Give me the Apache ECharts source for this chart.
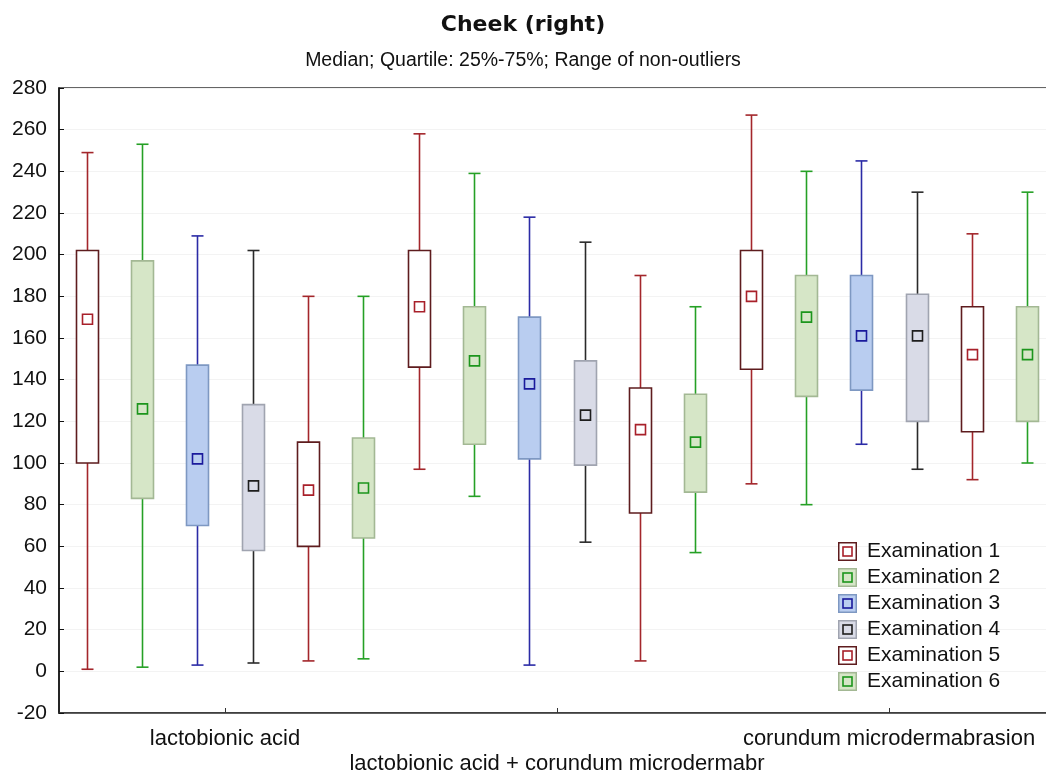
<!DOCTYPE html>
<html>
<head>
<meta charset="utf-8">
<script src="https://cdn.jsdelivr.net/npm/echarts@6/dist/echarts.min.js"></script>
<style>html,body{margin:0;padding:0;background:#fff}#c{width:1046px;height:772px}</style>
</head>
<body>
<div id="c"></div>
<script>
// ---- data ----
const categories = ['lactobionic acid', 'lactobionic acid + corundum microdermabr', 'corundum microdermabrasion'];
const seriesNames = ['Examination 1', 'Examination 2', 'Examination 3', 'Examination 4', 'Examination 5', 'Examination 6'];
const yTicks = [-20, 0, 20, 40, 60, 80, 100, 120, 140, 160, 180, 200, 220, 240, 260, 280];
// each entry: [min, Q1, median, Q3, max] per category
const exam1 = [[1, 100, 169, 202, 249], [97, 146, 175, 202, 258], [90, 145, 180, 202, 267]];
const exam2 = [[2, 83, 126, 197, 253], [84, 109, 149, 175, 239], [80, 132, 170, 190, 240]];
const exam3 = [[3, 70, 102, 147, 209], [3, 102, 138, 170, 218], [109, 135, 161, 190, 245]];
const exam4 = [[4, 58, 89, 128, 202], [62, 99, 123, 149, 206], [97, 120, 161, 181, 230]];
const exam5 = [[5, 60, 87, 110, 180], [5, 76, 116, 136, 190], [92, 115, 152, 175, 210]];
const exam6 = [[6, 64, 88, 112, 180], [57, 86, 110, 133, 175], [100, 120, 152, 175, 230]];
const examData = [exam1, exam2, exam3, exam4, exam5, exam6];

// ---- styles ----
const styles = [
  {whisker: '#a3262b', border: '#5e1c1e', fill: '#ffffff', marker: '#a8202a'},
  {whisker: '#25a025', border: '#a3b894', fill: '#d6e6c7', marker: '#1c951c'},
  {whisker: '#2b2ba6', border: '#7e98c2', fill: '#b9cdf0', marker: '#1a1a9c'},
  {whisker: '#2a2a2a', border: '#a0a4b0', fill: '#d9dbe7', marker: '#1e1e1e'},
  {whisker: '#a3262b', border: '#5e1c1e', fill: '#ffffff', marker: '#a8202a'},
  {whisker: '#25a025', border: '#a3b894', fill: '#d6e6c7', marker: '#1c951c'}
];

function legendIcon(s) {
  const svg = "<svg xmlns='http://www.w3.org/2000/svg' width='19' height='19'>" +
    "<rect x='0.75' y='0.75' width='17.5' height='17.5' fill='" + s.fill + "' stroke='" + s.border + "' stroke-width='1.5'/>" +
    "<rect x='5' y='5' width='9' height='9' fill='" + s.fill + "' stroke='" + s.marker + "' stroke-width='1.6'/></svg>";
  return 'image://data:image/svg+xml;charset=utf-8,' + encodeURIComponent(svg);
}

const nS = seriesNames.length;
const slots = [];
categories.forEach(function (c, ci) { seriesNames.forEach(function (n, si) { slots.push(c + '|' + n); }); });

const series = seriesNames.map(function (name, si) {
  const st = styles[si];
  const data = examData[si].map(function (v, ci) { return [ci * nS + si].concat(v); });
  return {
    name: name,
    type: 'custom',
    xAxisIndex: 0,
    yAxisIndex: 0,
    encode: {x: 0, y: [1, 2, 3, 4, 5]},
    data: data,
    renderItem: function (params, api) {
      const x = api.value(0);
      const pMin = api.coord([x, api.value(1)]);
      const yQ1 = api.coord([x, api.value(2)])[1];
      const yMed = api.coord([x, api.value(3)])[1];
      const yQ3 = api.coord([x, api.value(4)])[1];
      const yMax = api.coord([x, api.value(5)])[1];
      const cx = Math.round(pMin[0]) + 0.5;
      const yMin = pMin[1];
      const bw = 22, cw = 12, ms = 10;
      const ls = {stroke: st.whisker, lineWidth: 1.6};
      return {
        type: 'group',
        children: [
          {type: 'line', shape: {x1: cx, y1: yQ3, x2: cx, y2: yMax}, style: ls},
          {type: 'line', shape: {x1: cx, y1: yMin, x2: cx, y2: yQ1}, style: ls},
          {type: 'line', shape: {x1: cx - cw / 2, y1: yMax, x2: cx + cw / 2, y2: yMax}, style: ls},
          {type: 'line', shape: {x1: cx - cw / 2, y1: yMin, x2: cx + cw / 2, y2: yMin}, style: ls},
          {type: 'rect', shape: {x: cx - bw / 2, y: yQ3, width: bw, height: yQ1 - yQ3},
            style: {fill: st.fill, stroke: st.border, lineWidth: 1.6}},
          {type: 'rect', shape: {x: cx - ms / 2, y: yMed - ms / 2, width: ms, height: ms},
            style: {fill: st.fill, stroke: st.marker, lineWidth: 1.6}}
        ]
      };
    }
  };
});

const chart = echarts.init(document.getElementById('c'), null, {renderer: 'canvas'});
chart.setOption({
  backgroundColor: '#ffffff',
  animation: false,
  title: {
    text: 'Cheek (right)',
    subtext: 'Median; Quartile: 25%-75%; Range of non-outliers',
    left: 'center',
    top: 9,
    itemGap: 15,
    textStyle: {fontFamily: 'DejaVu Sans', fontWeight: 'bold', fontSize: 22, color: '#111'},
    subtextStyle: {fontFamily: 'Liberation Sans', fontSize: 19.5, color: '#111'}
  },
  legend: {
    orient: 'vertical',
    left: 833,
    top: 536,
    itemWidth: 19,
    itemHeight: 19,
    itemGap: 5,
    textStyle: {fontFamily: 'Liberation Sans', fontSize: 21, lineHeight: 21, color: '#111', padding: [0, 0, 0, 5]},
    data: seriesNames.map(function (n, i) { return {name: n, icon: legendIcon(styles[i])}; })
  },
  grid: {
    left: 59, width: 996, top: 88, height: 625,
    outerBoundsMode: 'none', containLabel: false,
    show: true, borderColor: '#333', borderWidth: 1.5, backgroundColor: 'transparent'
  },
  xAxis: [
    {
      type: 'category', data: slots, boundaryGap: true, position: 'bottom', show: false
    },
    {
      type: 'category', data: categories, boundaryGap: true, position: 'bottom',
      axisLine: {show: true, lineStyle: {color: '#333', width: 1.5}},
      axisTick: {show: true, inside: true, alignWithLabel: true, length: 5, lineStyle: {color: '#333'}},
      axisLabel: {
        interval: 0, margin: 13, fontFamily: 'Liberation Sans', fontSize: 22, color: '#111', lineHeight: 25,
        formatter: function (v, i) { return i === 1 ? '\n' + v : v; }
      },
      splitLine: {show: false}
    }
  ],
  yAxis: {
    type: 'value', min: yTicks[0], max: yTicks[yTicks.length - 1], interval: 20,
    axisLine: {show: true, lineStyle: {color: '#111', width: 1.5}},
    axisTick: {show: true, inside: true, length: 5, lineStyle: {color: '#111'}},
    axisLabel: {margin: 12, fontFamily: 'Liberation Sans', fontSize: 21, color: '#111'},
    splitLine: {show: true, lineStyle: {color: '#f3f3f3', width: 1}}
  },
  series: series
});
</script>
</body>
</html>
